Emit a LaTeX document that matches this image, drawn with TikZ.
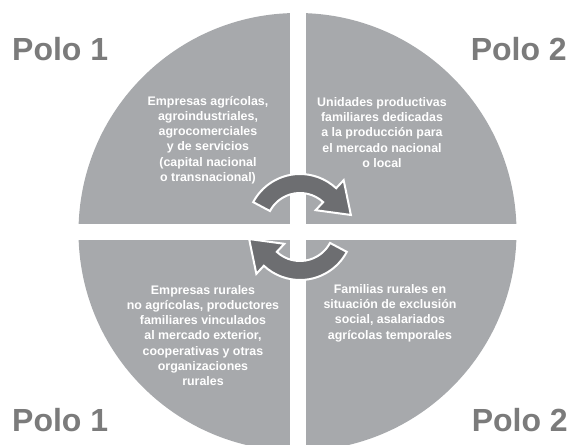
\documentclass[tikz,border=0pt]{standalone}
\usepackage{fontspec}
\setmainfont{Liberation Sans}
\usetikzlibrary{calc}
\definecolor{discgray}{HTML}{A7A9AC}
\definecolor{arrowgray}{HTML}{6D6E71}
\definecolor{pologray}{HTML}{7B7B7B}
\begin{document}
\begin{tikzpicture}[x=1pt,y=1pt,
  polo/.style={text=pologray,font=\bfseries\fontsize{32}{32}\selectfont,inner sep=0pt},
  quad/.style={text=white,align=center,inner sep=0pt,font=\bfseries\fontsize{12.4}{15.3}\selectfont},
  cyclearrow/.style={fill=arrowgray,draw=white,line width=2pt,line join=miter}]
\useasboundingbox (0,0) rectangle (571,445);
\clip (0,0) rectangle (571,445);
% disc with cross gap
\fill[discgray] (297.5,213) circle[radius=219];
\fill[white] (289.5,-10) rectangle (305.5,460);
\fill[white] (-10,205) rectangle (580,221);
% pole labels
\node[polo,anchor=base west] (p1t) at (12,384) {Polo 1};
\node[polo,anchor=base east] (p2t) at (567,384) {Polo 2};
\node[polo,anchor=base west] (p1b) at (12,13) {Polo 1};
\node[polo,anchor=base east] (p2b) at (568,13) {Polo 2};
% quadrant texts
\node[quad] (q1) at (208,305) {Empresas agrícolas,\\agroindustriales,\\agrocomerciales\\y de servicios\\(capital nacional\\o transnacional)};
\node[quad] (q2) at (382,312.5) {Unidades productivas\\familiares dedicadas\\a la producción para\\el mercado nacional\\o local};
\node[quad] (q3) at (203,109.5) {Empresas rurales\\no agrícolas, productores\\familiares vinculados\\al mercado exterior,\\cooperativas y otras\\organizaciones\\rurales};
\node[quad] (q4) at (390,132) {Familias rurales en\\situación de exclusión\\social, asalariados\\agrícolas temporales};
% cycle arrows
\coordinate (C) at (300,218);
\draw[cyclearrow] ($(C)+(152:53)$) arc[start angle=152,end angle=47,radius=53]
  -- ($(C)+(47:64)$) -- ($(C)+(47:43.5)+(-43:29)$) -- ($(C)+(47:23)$)
  -- ($(C)+(47:34)$) arc[start angle=47,end angle=152,radius=34] -- cycle;
\draw[cyclearrow] ($(C)+(-28:53)$) arc[start angle=-28,end angle=-133,radius=53]
  -- ($(C)+(227:64)$) -- ($(C)+(227:43.5)+(137:29)$) -- ($(C)+(227:23)$)
  -- ($(C)+(227:34)$) arc[start angle=-133,end angle=-28,radius=34] -- cycle;
\end{tikzpicture}
\end{document}
